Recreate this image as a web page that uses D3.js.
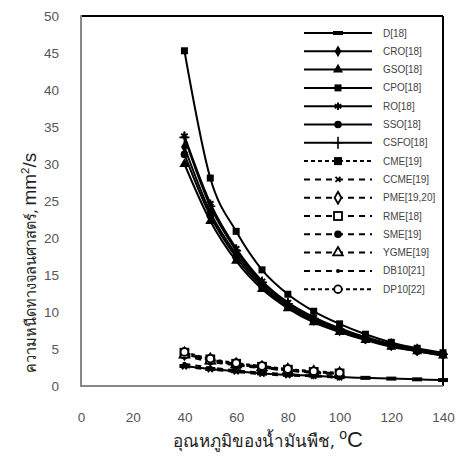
<!DOCTYPE html>
<html><head><meta charset="utf-8">
<script src="https://cdn.jsdelivr.net/npm/d3@7"></script>
<style>body{margin:0;background:#fff}svg{display:block}</style>
</head><body>
<script>
const tempsOil = [40,50,60,70,80,90,100,110,120,130,140];
const tempsBio = [40,50,60,70,80,90,100];
const xTicks = [0,20,40,60,80,100,120,140];
const yTicks = [0,5,10,15,20,25,30,35,40,45,50];

const D    = [2.7,2.3,2.0,1.7,1.5,1.4,1.2,1.1,1.0,0.9,0.8];
const CRO  = [32.3,23.5,17.8,13.7,10.9,8.9,7.5,6.4,5.5,4.8,4.2];
const GSO  = [30.0,22.3,16.9,13.1,10.5,8.6,7.3,6.2,5.3,4.7,4.1];
const CPO  = [45.3,28.1,20.9,15.7,12.4,10.1,8.4,7.0,5.9,5.1,4.5];
const RO   = [33.8,24.7,18.6,14.2,11.3,9.3,7.8,6.6,5.7,5.0,4.4];
const SSO  = [31.3,23.0,17.4,13.4,10.7,8.8,7.4,6.3,5.4,4.7,4.2];
const CSFO = [33.6,24.3,18.3,14.0,11.1,9.1,7.7,6.5,5.6,4.9,4.3];
const CME  = [4.3,3.5,2.9,2.5,2.1,1.9,1.6];
const CCME = [2.6,2.2,1.9,1.6,1.4,1.3,1.1];
const PME  = [4.4,3.6,2.9,2.5,2.2,1.9,1.7];
const RME  = [4.5,3.6,3.0,2.6,2.2,1.9,1.7];
const SME  = [4.1,3.3,2.8,2.4,2.1,1.8,1.6];
const YGME = [4.2,3.4,2.9,2.5,2.1,1.8,1.6];
const DB10 = [3.0,2.5,2.1,1.8,1.6,1.4,1.3];
const DP10 = [4.6,3.7,3.1,2.7,2.3,2.0,1.8];

const seriesNames = ["D[18]","CRO[18]","GSO[18]","CPO[18]","RO[18]","SSO[18]","CSFO[18]","CME[19]","CCME[19]","PME[19,20]","RME[18]","SME[19]","YGME[19]","DB10[21]","DP10[22]"];
const seriesVals = [D,CRO,GSO,CPO,RO,SSO,CSFO,CME,CCME,PME,RME,SME,YGME,DB10,DP10];
const markerTypes = ["bar","diamond","triangle","square","star","circle","plus","bigsquare","x","odiamond","osquare","circle","otriangle","dot","ocircle"];
const dashTypes = ["","","","","","","","4,3","6,5","6,5","6,5","6,5","6,5","6,5","4,3"];

const W=458,H=457;
const m={l:81,r:443,t:16,b:386};
const svg=d3.select("body").append("svg").attr("width",W).attr("height",H);
const x=d3.scaleLinear().domain([0,140]).range([m.l,m.r]);
const y=d3.scaleLinear().domain([0,50]).range([m.b,m.t]);

// frame
svg.append("line").attr("x1",m.l).attr("x2",m.r).attr("y1",m.t).attr("y2",m.t).attr("stroke","#000").attr("stroke-width",2);
svg.append("line").attr("x1",m.r).attr("x2",m.r).attr("y1",m.t).attr("y2",m.b).attr("stroke","#000").attr("stroke-width",2);
svg.append("line").attr("x1",m.l).attr("x2",m.r).attr("y1",m.b).attr("y2",m.b).attr("stroke","#888").attr("stroke-width",2);
svg.append("line").attr("x1",m.l).attr("x2",m.l).attr("y1",m.t-1).attr("y2",m.b+1).attr("stroke","#888").attr("stroke-width",2);

// axes (labels only)
const xa=svg.append("g").attr("transform",`translate(0,${m.b})`).call(d3.axisBottom(x).tickValues(xTicks).tickSize(0).tickPadding(26));
xa.select(".domain").remove();
xa.selectAll("text").attr("font-family","Liberation Sans, Arial, sans-serif").attr("font-size",13.5).attr("fill","#555");
const ya=svg.append("g").attr("transform",`translate(${m.l},0)`).call(d3.axisLeft(y).tickValues(yTicks).tickSize(0).tickPadding(22));
ya.select(".domain").remove();
ya.selectAll("text").attr("font-family","Liberation Sans, Arial, sans-serif").attr("font-size",13.5).attr("fill","#555");

function drawMarker(g,type,cx,cy){
  const k="#000";
  switch(type){
    case "bar": g.append("rect").attr("x",cx-5).attr("y",cy-2).attr("width",10).attr("height",4).attr("fill",k);break;
    case "diamond": g.append("path").attr("d",d3.symbol(d3.symbolDiamond,40)()).attr("transform",`translate(${cx},${cy})`).attr("fill",k);break;
    case "triangle": g.append("path").attr("d",d3.symbol(d3.symbolTriangle,44)()).attr("transform",`translate(${cx},${cy})`).attr("fill",k);break;
    case "square": g.append("rect").attr("x",cx-3.5).attr("y",cy-3.5).attr("width",7).attr("height",7).attr("fill",k);break;
    case "bigsquare": g.append("rect").attr("x",cx-4).attr("y",cy-4).attr("width",8).attr("height",8).attr("fill",k);break;
    case "star": g.append("path").attr("d",d3.symbol(d3.symbolAsterisk,40)()).attr("transform",`translate(${cx},${cy})`).attr("stroke",k).attr("stroke-width",2).attr("fill","none");break;
    case "circle": g.append("circle").attr("cx",cx).attr("cy",cy).attr("r",3.8).attr("fill",k);break;
    case "plus": g.append("path").attr("d",`M${cx-5},${cy}H${cx+5}M${cx},${cy-6}V${cy+6}`).attr("stroke",k).attr("stroke-width",1.6);break;
    case "x": g.append("path").attr("d",`M${cx-2.5},${cy-2.5}L${cx+2.5},${cy+2.5}M${cx+2.5},${cy-2.5}L${cx-2.5},${cy+2.5}`).attr("stroke",k).attr("stroke-width",1.8);break;
    case "odiamond": g.append("path").attr("d",d3.symbol(d3.symbolDiamond,40)()).attr("transform",`translate(${cx},${cy})`).attr("fill","#fff").attr("stroke",k).attr("stroke-width",1.8);break;
    case "osquare": g.append("rect").attr("x",cx-4).attr("y",cy-4).attr("width",8).attr("height",8).attr("fill","#fff").attr("stroke",k).attr("stroke-width",1.8);break;
    case "otriangle": g.append("path").attr("d",d3.symbol(d3.symbolTriangle,40)()).attr("transform",`translate(${cx},${cy})`).attr("fill","#fff").attr("stroke",k).attr("stroke-width",1.8);break;
    case "dot": g.append("circle").attr("cx",cx).attr("cy",cy).attr("r",2).attr("fill",k);break;
    case "ocircle": g.append("circle").attr("cx",cx).attr("cy",cy).attr("r",3.8).attr("fill","#fff").attr("stroke",k).attr("stroke-width",1.8);break;
  }
}

const plot=svg.append("g");
const curve=d3.line().x(d=>x(d[0])).y(d=>y(d[1])).curve(d3.curveMonotoneX);
seriesVals.forEach((vals,i)=>{
  const temps = vals.length===tempsOil.length?tempsOil:tempsBio;
  const pts = vals.map((v,j)=>[temps[j],v]);
  plot.append("path").datum(pts).attr("d",curve).attr("fill","none").attr("stroke","#000").attr("stroke-width",2).attr("stroke-dasharray",dashTypes[i]||null);
  pts.forEach(p=>drawMarker(plot,markerTypes[i],x(p[0]),y(p[1])));
});

// legend
const lg=svg.append("g");
seriesNames.forEach((n,i)=>{
  const yy=33+i*18.3;
  lg.append("line").attr("x1",304).attr("x2",372).attr("y1",yy).attr("y2",yy).attr("stroke","#000").attr("stroke-width",2).attr("stroke-dasharray",dashTypes[i]||null);
  drawMarker(lg,markerTypes[i],338,yy);
  lg.append("text").attr("x",383).attr("y",yy+3.5).attr("font-family","Liberation Sans, Arial, sans-serif").attr("font-size",10).attr("fill","#444").text(n);
});

// axis titles
const yt=svg.append("text").attr("transform",`translate(36,263) rotate(-90)`).attr("text-anchor","middle").attr("fill","#222");
yt.append("tspan").attr("font-family","Noto Sans, sans-serif").attr("font-size",14.5).text("ความหนืดทางจลนศาสตร์, ");
yt.append("tspan").attr("font-family","Liberation Sans, Arial, sans-serif").attr("font-size",19).text("mm");
yt.append("tspan").attr("font-family","Liberation Sans, Arial, sans-serif").attr("font-size",11.5).attr("dy",-7).text("2");
yt.append("tspan").attr("font-family","Liberation Sans, Arial, sans-serif").attr("font-size",19).attr("dy",7).text("/s");

const xt=svg.append("text").attr("x",268).attr("y",447).attr("text-anchor","middle").attr("fill","#222");
xt.append("tspan").attr("font-family","Noto Sans, sans-serif").attr("font-size",17).text("อุณหภูมิของน้ำมันพืช, ");
xt.append("tspan").attr("font-family","Liberation Sans, Arial, sans-serif").attr("font-size",14).attr("dy",-8).text("o");
xt.append("tspan").attr("font-family","Liberation Sans, Arial, sans-serif").attr("font-size",22).attr("dy",8).text("C");
</script>
</body></html>
